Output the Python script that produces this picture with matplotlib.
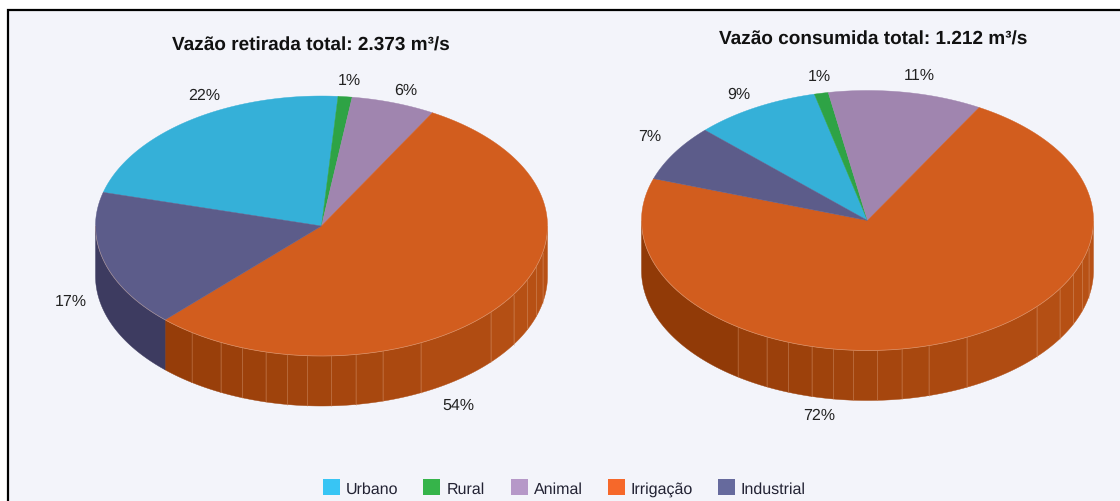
import numpy as np
import matplotlib
matplotlib.use('Agg')
import matplotlib.pyplot as plt
from matplotlib.patches import Polygon, Rectangle

plt.rcParams['font.family'] = ['Liberation Sans', 'DejaVu Sans']
plt.rcParams['text.hinting'] = 'none'
plt.rcParams['text.hinting_factor'] = 1

# data
categories = ['Urbano', 'Rural', 'Animal', 'Irrigação', 'Industrial']
retirada = [22, 1, 6, 54, 17]
consumida = [9, 1, 11, 72, 7]
title_retirada = 'Vazão retirada total: 2.373 m³/s'
title_consumida = 'Vazão consumida total: 1.212 m³/s'

top_colors = ['#35b0d8', '#2ea345', '#a085af', '#d25d1e', '#5c5c8a']
legend_colors = ['#38c5f4', '#36b44a', '#b698c8', '#f6682a', '#666a9d']
BG = '#f3f4fa'
RX, RY, DEPTH = 226, 130, 50
# angles where the side wall of the big slice has its facets
facets = [90, 102, 108, 114.3, 121.8, 131.6, 154, 164.3, 171.3, 177.5, 183.6,
          188.7, 194.3, 200.5, 206.5, 215, 270]


def ell(cx, cy, a):
    a = np.radians(a)
    return cx + RX * np.sin(a), cy - RY * np.cos(a)


def mix(c1, c2, t):
    c1 = np.array(matplotlib.colors.to_rgb(c1))
    c2 = np.array(matplotlib.colors.to_rgb(c2))
    return tuple(c1 + (c2 - c1) * t)


def wall(ax, cx, cy, a0, a1, color, line=False):
    aa = np.linspace(a0, a1, 40)
    x, y = ell(cx, cy, aa)
    pts = np.vstack([np.c_[x, y], np.c_[x[::-1], y[::-1] + DEPTH]])
    ax.add_patch(Polygon(pts, closed=True, fc=color, ec=color, lw=0.3, zorder=2))
    if line:
        ax.plot([x[0], x[0]], [y[0], y[0] + DEPTH], color='#dd9a70', lw=0.5, alpha=0.45, zorder=3)


def pie3d(ax, cx, cy, values, start):
    edges = start + np.cumsum([0] + list(values)) * 3.6
    for i, v in enumerate(values):
        a0, a1 = edges[i], edges[i + 1]
        # side wall, only the front half shows
        for shift in (0, 360, -360):
            lo, hi = max(a0 + shift, 90), min(a1 + shift, 270)
            if lo >= hi:
                continue
            if categories[i] == 'Irrigação':
                for f0, f1 in zip(facets[:-1], facets[1:]):
                    l2, h2 = max(lo, f0), min(hi, f1)
                    if l2 < h2:
                        t = (np.sin(np.radians((l2 + h2) / 2)) + 1) / 2
                        wall(ax, cx, cy, l2, h2, mix('#8f3906', '#b85115', t), line=(f0 != 90))
            else:
                wall(ax, cx, cy, lo, hi, '#3d3b60')
    for i, v in enumerate(values):
        aa = np.linspace(edges[i], edges[i + 1], 200)
        x, y = ell(cx, cy, aa)
        pts = np.vstack([[cx, cy], np.c_[x, y]])
        ax.add_patch(Polygon(pts, closed=True, fc=top_colors[i], ec=top_colors[i], lw=0.3, zorder=4))
    # faint light rim along the front of the top face
    x, y = ell(cx, cy, np.linspace(90, 270, 200))
    ax.plot(x, y, color='#e8c0a8', lw=0.5, alpha=0.5, zorder=5)


fig = plt.figure(figsize=(11.2, 5.02), dpi=100, facecolor='white')
ax = fig.add_axes([0, 0, 1, 1])
ax.set_xlim(0, 1120)
ax.set_ylim(502, 0)
ax.axis('off')

# panel and its frame (left and top only)
ax.add_patch(Rectangle((8, 11), 1112, 491, fc=BG, ec='none', zorder=0))
ax.plot([8, 8, 1120], [502, 11, 11], color='black', lw=1.6, zorder=1, solid_joinstyle='miter')

pie3d(ax, 321.5, 227, retirada, 285)
pie3d(ax, 867.5, 221.5, consumida, 314)

ax.text(311, 46, title_retirada, fontsize=13.6, fontweight='bold', ha='center', va='center', color='#111111')
ax.text(873.5, 40, title_consumida, fontsize=13.6, fontweight='bold', ha='center', va='center', color='#111111')

for s, x, y in zip(retirada, [204, 349, 406, 458, 71], [95.5, 81, 90.5, 405.5, 301.5]):
    ax.text(x, y, '%d%%' % s, fontsize=11.5, ha='center', va='center', color='#222222')
for s, x, y in zip(consumida, [739, 819, 919, 819, 650], [94.5, 76.5, 75.5, 415.5, 136.5]):
    ax.text(x, y, '%d%%' % s, fontsize=11.5, ha='center', va='center', color='#222222')

# legend
for name, col, bx, tx in zip(categories, legend_colors, [323, 423, 511, 608, 718], [346, 447, 534, 631, 741]):
    ax.add_patch(Rectangle((bx, 480), 17, 16, fc=col, ec='none', zorder=5))
    ax.text(tx, 490, name, fontsize=11.5, ha='left', va='center', color='#222233')

fig.savefig('out.png', dpi=100, facecolor='white')
